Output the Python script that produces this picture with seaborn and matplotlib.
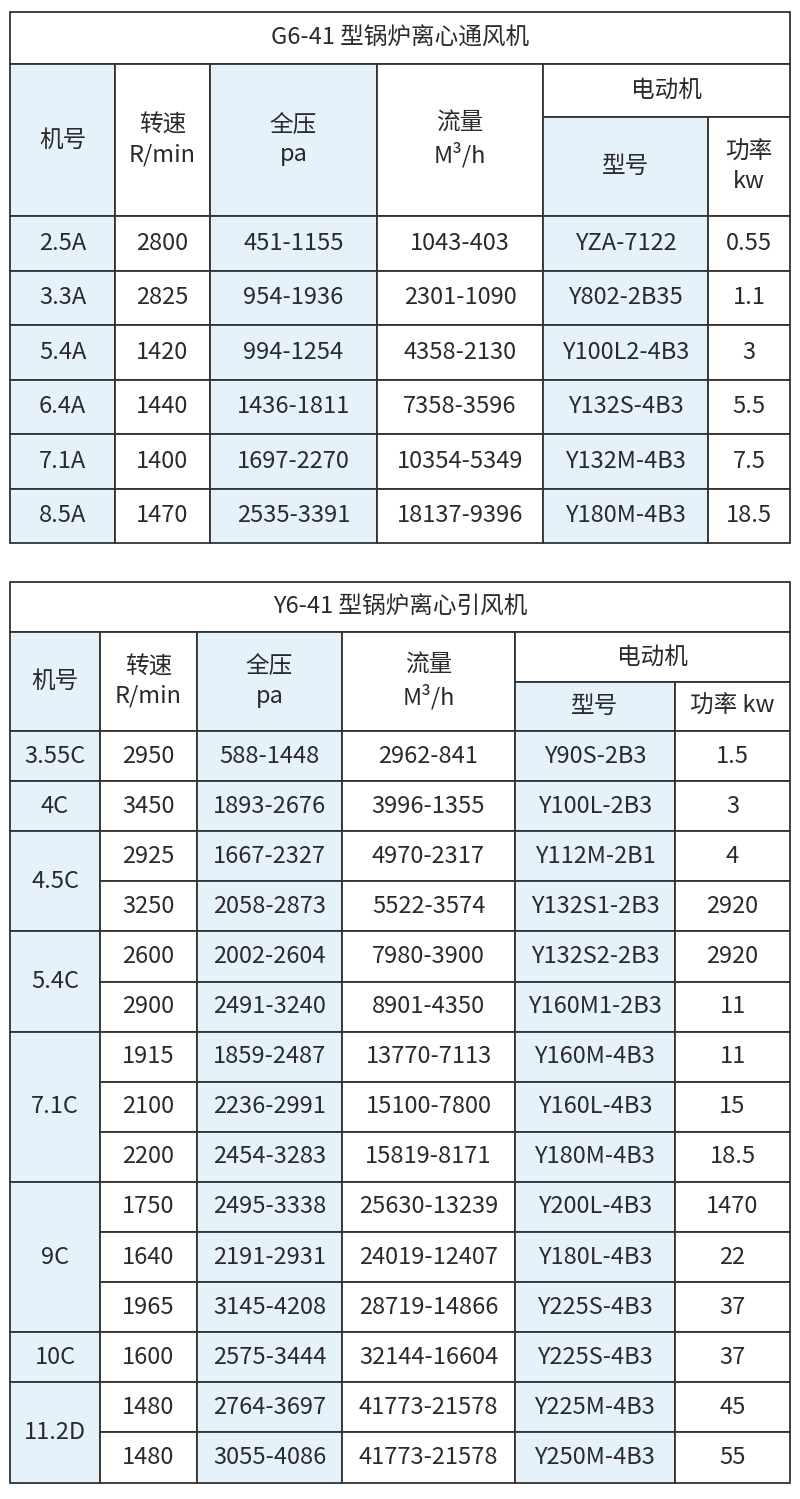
import matplotlib
matplotlib.use("Agg")
import matplotlib.pyplot as plt
import seaborn as sns
from matplotlib.patches import Rectangle

sns.set_theme(style="white")
plt.rcParams["font.family"] = ["Noto Sans CJK SC", "DejaVu Sans"]

# ---- data ----
t1_title = "G6-41 型锅炉离心通风机"
t1_models = ["2.5A", "3.3A", "5.4A", "6.4A", "7.1A", "8.5A"]
t1_speed = ["2800", "2825", "1420", "1440", "1400", "1470"]
t1_press = ["451-1155", "954-1936", "994-1254", "1436-1811", "1697-2270", "2535-3391"]
t1_flow = ["1043-403", "2301-1090", "4358-2130", "7358-3596", "10354-5349", "18137-9396"]
t1_motor = ["YZA-7122", "Y802-2B35", "Y100L2-4B3", "Y132S-4B3", "Y132M-4B3", "Y180M-4B3"]
t1_power = ["0.55", "1.1", "3", "5.5", "7.5", "18.5"]

t2_title = "Y6-41 型锅炉离心引风机"
t2_models = ["3.55C", "4C", "4.5C", "5.4C", "7.1C", "9C", "10C", "11.2D"]
t2_model_span = [1, 1, 2, 2, 3, 3, 1, 2]
t2_speed = ["2950", "3450", "2925", "3250", "2600", "2900", "1915", "2100", "2200",
            "1750", "1640", "1965", "1600", "1480", "1480"]
t2_press = ["588-1448", "1893-2676", "1667-2327", "2058-2873", "2002-2604", "2491-3240",
            "1859-2487", "2236-2991", "2454-3283", "2495-3338", "2191-2931", "3145-4208",
            "2575-3444", "2764-3697", "3055-4086"]
t2_flow = ["2962-841", "3996-1355", "4970-2317", "5522-3574", "7980-3900", "8901-4350",
           "13770-7113", "15100-7800", "15819-8171", "25630-13239", "24019-12407",
           "28719-14866", "32144-16604", "41773-21578", "41773-21578"]
t2_motor = ["Y90S-2B3", "Y100L-2B3", "Y112M-2B1", "Y132S1-2B3", "Y132S2-2B3", "Y160M1-2B3",
            "Y160M-4B3", "Y160L-4B3", "Y180M-4B3", "Y200L-4B3", "Y180L-4B3", "Y225S-4B3",
            "Y225S-4B3", "Y225M-4B3", "Y250M-4B3"]
t2_power = ["1.5", "3", "4", "2920", "2920", "11", "11", "15", "18.5", "1470", "22", "37",
            "37", "45", "55"]

BLUE = "#e6f2fa"
LINE = "#333333"
TXT = "#2a2a2a"
FS = 17

fig = plt.figure(figsize=(8, 14.99), dpi=100)
ax = fig.add_axes([0, 0, 1, 1])
ax.set_xlim(0, 800)
ax.set_ylim(1499, 0)
ax.axis("off")

def cell(x0, x1, y0, y1, text="", fill=None, fs=FS):
    ax.add_patch(Rectangle((x0, y0), x1 - x0, y1 - y0, facecolor=fill or "white",
                           edgecolor=LINE, linewidth=1.3))
    if text:
        ax.text((x0 + x1) / 2, (y0 + y1) / 2, text, ha="center", va="center",
                fontsize=fs, color=TXT, linespacing=1.35, fontweight="light")

def table(xs, ytop, ytitle, ysub, yhead, rowh, title, power_hdr, models, spans,
          speed, press, flow, motor, power):
    cell(xs[0], xs[-1], ytop, ytitle, title)
    cell(xs[0], xs[1], ytitle, yhead, "机号", BLUE)
    cell(xs[1], xs[2], ytitle, yhead, "转速\nR/min")
    cell(xs[2], xs[3], ytitle, yhead, "全压\npa", BLUE)
    cell(xs[3], xs[4], ytitle, yhead, "流量\nM³/h")
    cell(xs[4], xs[6], ytitle, ysub, "电动机")
    cell(xs[4], xs[5], ysub, yhead, "型号", BLUE)
    cell(xs[5], xs[6], ysub, yhead, power_hdr)
    y = yhead
    for m, s in zip(models, spans):
        cell(xs[0], xs[1], y, y + s * rowh, m, BLUE)
        y += s * rowh
    for i in range(len(speed)):
        y0, y1 = yhead + i * rowh, yhead + (i + 1) * rowh
        cell(xs[1], xs[2], y0, y1, speed[i])
        cell(xs[2], xs[3], y0, y1, press[i], BLUE)
        cell(xs[3], xs[4], y0, y1, flow[i])
        cell(xs[4], xs[5], y0, y1, motor[i], BLUE)
        cell(xs[5], xs[6], y0, y1, power[i])

table([10, 115, 210, 377, 543, 708, 790], 12, 64, 117, 216, 54.5, t1_title, "功率\nkw",
      t1_models, [1] * len(t1_models), t1_speed, t1_press, t1_flow, t1_motor, t1_power)
table([10, 100, 197, 342, 515, 675, 790], 582, 632, 682, 731, 50.1, t2_title, "功率 kw",
      t2_models, t2_model_span, t2_speed, t2_press, t2_flow, t2_motor, t2_power)

fig.savefig("out.png", dpi=100, facecolor="white")
